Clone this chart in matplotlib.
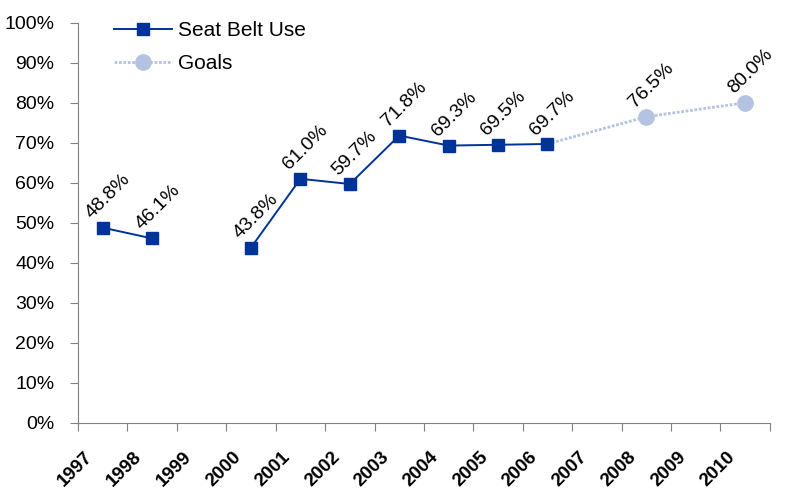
import matplotlib.pyplot as plt
import matplotlib.transforms as mtrans
import numpy as np

years = ['1997', '1998', '1999', '2000', '2001', '2002', '2003',
         '2004', '2005', '2006', '2007', '2008', '2009', '2010']
belt_use = [48.8, 46.1, np.nan, 43.8, 61.0, 59.7, 71.8, 69.3, 69.5, 69.7,
            np.nan, np.nan, np.nan, np.nan]
goal_years = ['2006', '2008', '2010']
goal_values = [69.7, 76.5, 80.0]

plt.rcParams['font.family'] = ['Liberation Sans', 'DejaVu Sans']

fig = plt.figure(figsize=(7.88, 4.93), dpi=100)
ax = fig.add_axes([0.099, 0.142, 0.878, 0.812])

x = np.arange(len(years))
gx = [years.index(y) for y in goal_years]

ax.plot(gx, goal_values, color='#B4C3E1', lw=2, ls=(0, (1, 0.6)),
        marker='o', ms=11, markevery=[1, 2], mfc='#B4C3E1', mec='#B4C3E1',
        label='Goals', zorder=2)
ax.plot(x, belt_use, color='#003399', lw=1.4, marker='s', ms=9,
        mfc='#003399', mec='#003399', label='Seat Belt Use', zorder=3)

labels = [(xi, v) for xi, v in zip(x, belt_use) if not np.isnan(v)]
labels += list(zip(gx[1:], goal_values[1:]))
for xi, v in labels:
    ax.annotate(f'{v:.1f}%', (xi, v), xytext=(-8, 6), textcoords='offset points',
                rotation=45, rotation_mode='anchor', ha='left', va='baseline',
                fontsize=14)

ax.set_xlim(-0.5, len(years) - 0.5)
ax.set_ylim(0, 100)
ax.set_yticks(np.arange(0, 101, 10))
ax.set_yticklabels([f'{v}%' for v in range(0, 101, 10)], fontsize=14)
ax.set_xticks(np.arange(len(years) + 1) - 0.5)
ax.set_xticklabels([])

# year labels sit at the category boundaries, shifted down-right
shift = mtrans.ScaledTranslation(12 / 100, -31 / 100, fig.dpi_scale_trans)
for i, yr in enumerate(years):
    ax.text(i - 0.5, 0, yr, transform=ax.get_xaxis_transform() + shift,
            fontsize=13.5, fontweight='bold', rotation=45, rotation_mode='anchor',
            ha='right', va='center')

for s in ['top', 'right']:
    ax.spines[s].set_visible(False)
for s in ['left', 'bottom']:
    ax.spines[s].set_color('#808080')
ax.tick_params(axis='both', direction='out', length=6, color='#808080')
ax.tick_params(axis='y', pad=11)

h, l = ax.get_legend_handles_labels()
ax.legend(h[::-1], l[::-1], loc='upper left', bbox_to_anchor=(0.025, 1.05),
          frameon=False, fontsize=15, handlelength=2.8, handletextpad=0.25,
          labelspacing=0.65)

fig.savefig('out.png', dpi=100)
